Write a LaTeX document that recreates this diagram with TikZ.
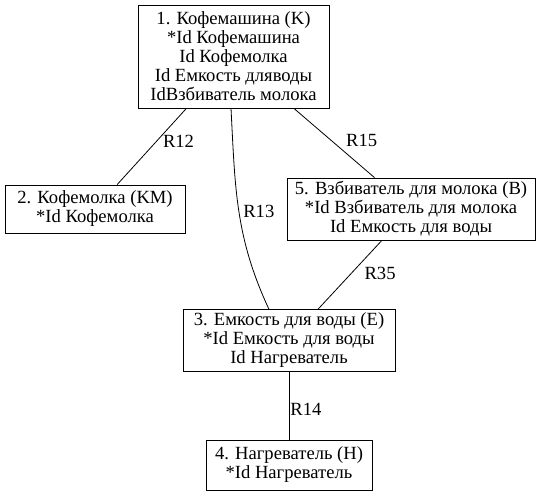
\documentclass[tikz,border=0pt]{standalone}
\usepackage{fontspec}
\setmainfont{Liberation Serif}
\usetikzlibrary{positioning}
\begin{document}
\begin{tikzpicture}[x=1pt,y=-1pt,line width=0.8pt,
    entity/.style={draw,align=center,font=\fontsize{18.6}{19}\selectfont},
    rel/.style={font=\fontsize{18.6}{19}\selectfont,inner sep=1pt}]
    \useasboundingbox (0,0) rectangle (545,496);

    \node[entity,minimum width=191pt,minimum height=103pt] (k) at (233.5,56.5)
        {1. Кофемашина (K)\\*Id Кофемашина\\Id Кофемолка\\Id Емкость дляводы\\IdВзбиватель молока};
    \node[entity,minimum width=180pt,minimum height=48pt] (km) at (95,209)
        {2. Кофемолка (KM)\\*Id Кофемолка};
    \node[entity,minimum width=248pt,minimum height=62pt] (b) at (411,209)
        {5. Взбиватель для молока (B)\\*Id Взбиватель для молока\\Id Емкость для воды};
    \node[entity,minimum width=212pt,minimum height=59pt] (e) at (289,340.5)
        {3. Емкость для воды (E)\\*Id Емкость для воды\\Id Нагреватель};
    \node[entity,minimum width=166pt,minimum height=50pt] (h) at (289,465)
        {4. Нагреватель (H)\\*Id Нагреватель};

    \draw (k) -- (km) node[rel,pos=0.43,right=5pt] {R12};
    \draw (k) -- (b) node[rel,pos=0.47,right=13pt] {R15};
    \draw ([xshift=-2.5pt]k.south) to[out=-87,in=115] node[rel,pos=0.5,right=3pt] {R13} ([xshift=-20pt]e.north);
    \draw (b) -- (e) node[rel,pos=0.48,right=12pt] {R35};
    \draw (e) -- (h) node[rel,pos=0.56,right=0pt] {R14};
\end{tikzpicture}
\end{document}
